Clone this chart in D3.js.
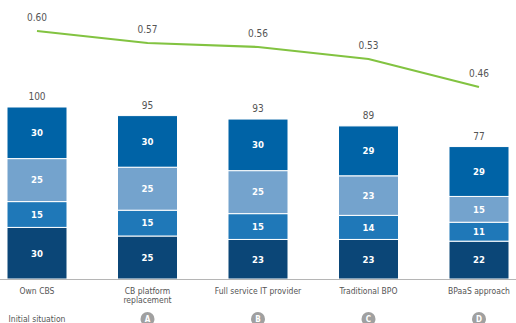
<!DOCTYPE html>
<html>
<head>
<meta charset="utf-8">
<script src="https://cdn.jsdelivr.net/npm/d3@7"></script>
<style>
  body { margin: 0; background: #fff; }
  svg { display: block; font-family: "DejaVu Sans Condensed", "Liberation Sans Narrow", "Liberation Sans", sans-serif; font-stretch: condensed; }
</style>
</head>
<body>
<div class="chart"></div>
<script>
// categories + stacked values (bottom -> top)
const categories = ["Own CBS", "CB platform replacement", "Full service IT provider", "Traditional BPO", "BPaaS approach"];
const catLines = [["Own CBS"], ["CB platform", "replacement"], ["Full service IT provider"], ["Traditional BPO"], ["BPaaS approach"]];
const badges = ["Initial situation", "A", "B", "C", "D"];
const seg1 = [30, 25, 23, 23, 22];   // bottom, dark navy
const seg2 = [15, 15, 15, 14, 11];
const seg3 = [25, 25, 25, 23, 15];   // light blue
const seg4 = [30, 30, 30, 29, 29];   // top
const totals = [100, 95, 93, 89, 77];
const ratio = [0.60, 0.57, 0.56, 0.53, 0.46];

const W = 516, H = 323;
const baseY = 279;
const colors = ["#0b4677", "#1f78b8", "#74a3cd", "#0063a6"];

const svg = d3.select(".chart").append("svg")
    .attr("width", W)
    .attr("height", H);

const x = d3.scaleBand()
    .domain(categories)
    .range([7, 509])
    .paddingInner(0.457)
    .paddingOuter(0);

const y = d3.scaleLinear()
    .domain([0, 100])
    .range([baseY, 107]);

const yLine = d3.scaleLinear()
    .domain([0.46, 0.60])
    .range([87, 31]);

const rows = categories.map((c, i) => ({cat: c, s0: seg1[i], s1: seg2[i], s2: seg3[i], s3: seg4[i]}));
const stack = d3.stack().keys(["s0", "s1", "s2", "s3"])(rows);

// bars
const layers = svg.selectAll("g.layer")
    .data(stack)
    .join("g")
        .attr("class", "layer")
        .attr("fill", (d, i) => colors[i]);

layers.selectAll("rect")
    .data(d => d)
    .join("rect")
        .attr("x", d => x(d.data.cat))
        .attr("y", d => y(d[1]))
        .attr("width", x.bandwidth())
        .attr("height", d => y(d[0]) - y(d[1]))
        .attr("stroke", "#fff")
        .attr("stroke-width", 1);

// in-bar labels
layers.selectAll("text")
    .data(d => d)
    .join("text")
        .attr("x", d => x(d.data.cat) + x.bandwidth() / 2)
        .attr("y", d => (y(d[0]) + y(d[1])) / 2)
        .attr("dy", "0.35em")
        .attr("text-anchor", "middle")
        .attr("fill", "#fff")
        .attr("font-size", 9.5)
        .attr("font-weight", "bold")
        .text(d => d[1] - d[0]);

// baseline
svg.append("line")
    .attr("x1", 0).attr("x2", W)
    .attr("y1", baseY + 0.5).attr("y2", baseY + 0.5)
    .attr("stroke", "#b5b5b5");

// totals
svg.selectAll("text.total")
    .data(totals)
    .join("text")
        .attr("class", "total")
        .attr("x", (d, i) => x(categories[i]) + x.bandwidth() / 2)
        .attr("y", d => y(d) - 7)
        .attr("text-anchor", "middle")
        .attr("fill", "#555")
        .attr("font-size", 10)
        .text(d => d);

// green line
const cx = i => x(categories[i]) + x.bandwidth() / 2;
svg.append("path")
    .datum(ratio)
    .attr("fill", "none")
    .attr("stroke", "#82c341")
    .attr("stroke-width", 2.2)
    .attr("d", d3.line().x((d, i) => cx(i)).y(d => yLine(d)));

svg.selectAll("text.ratio")
    .data(ratio)
    .join("text")
        .attr("class", "ratio")
        .attr("x", (d, i) => cx(i))
        .attr("y", d => yLine(d) - 10)
        .attr("text-anchor", "middle")
        .attr("fill", "#555")
        .attr("font-size", 10)
        .text(d => d.toFixed(2));

// category labels
const cat = svg.selectAll("text.cat")
    .data(catLines)
    .join("text")
        .attr("class", "cat")
        .attr("x", (d, i) => cx(i))
        .attr("y", 294)
        .attr("text-anchor", "middle")
        .attr("fill", "#555")
        .attr("font-size", 8.5);
cat.selectAll("tspan")
    .data(d => d)
    .join("tspan")
        .attr("x", function() { return this.parentNode.getAttribute("x"); })
        .attr("dy", (d, i) => i === 0 ? 0 : 8.5)
        .text(d => d);

// scenario badges
badges.forEach((b, i) => {
    if (i === 0) {
        svg.append("text")
            .attr("x", cx(i))
            .attr("y", 322)
            .attr("text-anchor", "middle")
            .attr("fill", "#555")
            .attr("font-size", 8.5)
            .text(b);
    } else {
        svg.append("circle")
            .attr("cx", cx(i))
            .attr("cy", 319)
            .attr("r", 7)
            .attr("fill", "#a0a0a0");
        svg.append("text")
            .attr("x", cx(i))
            .attr("y", 319)
            .attr("dy", "0.35em")
            .attr("text-anchor", "middle")
            .attr("fill", "#fff")
            .attr("font-size", 8)
            .attr("font-weight", "bold")
            .text(b);
    }
});
</script>
</body>
</html>
